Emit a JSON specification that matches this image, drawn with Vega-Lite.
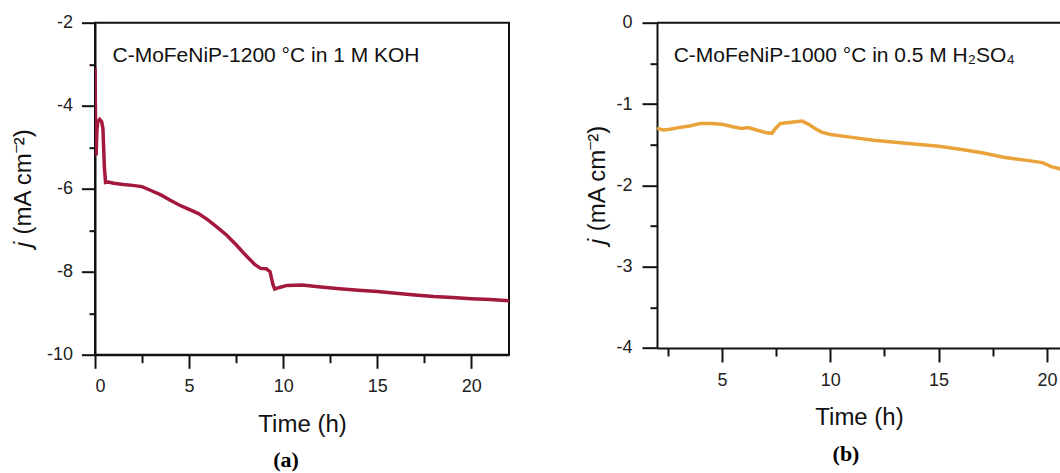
{
  "$schema": "https://vega.github.io/schema/vega-lite/v6.json",
  "padding": {"left": 10, "top": 10.7, "right": 0, "bottom": 0},
  "spacing": 75,
  "config": {
    "view": {"stroke": null},
    "font": "Liberation Sans",
    "axis": {
      "grid": false,
      "domainColor": "#111",
      "domainWidth": 2,
      "tickColor": "#111",
      "tickWidth": 2,
      "labelColor": "#222",
      "labelFontSize": 18,
      "titleColor": "#111",
      "titleFontSize": 24,
      "titleFontWeight": "normal"
    }
  },
  "hconcat": [
    {
      "width": 414,
      "height": 332,
      "view": {"stroke": "#111", "strokeWidth": 2},
      "title": {"text": "(a)", "orient": "bottom", "font": "Liberation Serif", "fontSize": 22, "fontWeight": "bold", "color": "#000", "offset": 14, "dx": -16},
      "layer": [
        {
          "data": {"values": [
            {"t": 0.0, "j": -3.1}, {"t": 0.03, "j": -4.5}, {"t": 0.06, "j": -5.2}, {"t": 0.1, "j": -4.6},
            {"t": 0.15, "j": -4.38}, {"t": 0.25, "j": -4.33}, {"t": 0.35, "j": -4.38}, {"t": 0.42, "j": -4.55},
            {"t": 0.5, "j": -5.5}, {"t": 0.56, "j": -5.85}, {"t": 0.7, "j": -5.84}, {"t": 1.0, "j": -5.87},
            {"t": 1.5, "j": -5.9}, {"t": 2.0, "j": -5.92}, {"t": 2.5, "j": -5.95}, {"t": 3.0, "j": -6.05},
            {"t": 3.5, "j": -6.15}, {"t": 4.0, "j": -6.28}, {"t": 4.5, "j": -6.4}, {"t": 5.0, "j": -6.5},
            {"t": 5.5, "j": -6.6}, {"t": 6.0, "j": -6.75}, {"t": 6.5, "j": -6.93}, {"t": 7.0, "j": -7.12},
            {"t": 7.5, "j": -7.35}, {"t": 8.0, "j": -7.6}, {"t": 8.5, "j": -7.83}, {"t": 8.8, "j": -7.92},
            {"t": 9.1, "j": -7.93}, {"t": 9.3, "j": -8.0}, {"t": 9.45, "j": -8.3}, {"t": 9.55, "j": -8.42},
            {"t": 9.8, "j": -8.38}, {"t": 10.2, "j": -8.33}, {"t": 11.0, "j": -8.32}, {"t": 12.0, "j": -8.37},
            {"t": 13.0, "j": -8.41}, {"t": 14.0, "j": -8.45}, {"t": 15.0, "j": -8.48}, {"t": 16.0, "j": -8.52},
            {"t": 17.0, "j": -8.56}, {"t": 18.0, "j": -8.6}, {"t": 19.0, "j": -8.62}, {"t": 20.0, "j": -8.65},
            {"t": 21.0, "j": -8.67}, {"t": 22.0, "j": -8.7}
          ]},
          "mark": {"type": "line", "color": "#A3183C", "strokeWidth": 3.5, "clip": true},
          "encoding": {
            "x": {"field": "t", "type": "quantitative", "scale": {"domain": [0, 22], "nice": false, "zero": false},
              "axis": {"orient": "bottom", "values": [0, 5, 10, 15, 20], "tickSize": 13.6, "labelPadding": 9, "title": "Time (h)", "titlePadding": 17}},
            "y": {"field": "j", "type": "quantitative", "scale": {"domain": [-10, -2], "nice": false, "zero": false},
              "axis": {"orient": "left", "values": [-2, -4, -6, -8, -10], "tickSize": 13.6, "labelPadding": 9, "labelExpr": "'' + datum.value", "title": "𝑗 (mA cm⁻²)", "titlePadding": 11}}
          }
        },
        {
          "data": {"values": [{"t": 0.93, "j": -2.947, "label": "C-MoFeNiP-1200 °C in 1 M KOH"}]},
          "mark": {"type": "text", "align": "left", "baseline": "alphabetic", "fontSize": 21, "color": "#111"},
          "encoding": {
            "x": {"field": "t", "type": "quantitative", "axis": {"orient": "bottom", "values": [2.5, 7.5, 12.5, 17.5], "tickSize": 8, "labels": false, "domain": false, "title": null}},
            "y": {"field": "j", "type": "quantitative", "axis": {"orient": "left", "values": [-3, -5, -7, -9], "tickSize": 6, "labels": false, "domain": false, "title": null}},
            "text": {"field": "label"}
          }
        }
      ],
      "resolve": {"axis": {"x": "independent", "y": "independent"}}
    },
    {
      "width": 404,
      "height": 325.3,
      "title": {"text": "(b)", "orient": "bottom", "font": "Liberation Serif", "fontSize": 22, "fontWeight": "bold", "color": "#000", "offset": 14, "dx": -13},
      "layer": [
        {
          "data": {"values": [
            {"t": 2.0, "j": -1.3}, {"t": 2.3, "j": -1.32}, {"t": 2.6, "j": -1.31}, {"t": 3.0, "j": -1.29},
            {"t": 3.5, "j": -1.27}, {"t": 4.0, "j": -1.24}, {"t": 4.5, "j": -1.24}, {"t": 5.0, "j": -1.25},
            {"t": 5.5, "j": -1.28}, {"t": 5.9, "j": -1.3}, {"t": 6.2, "j": -1.29}, {"t": 6.6, "j": -1.32},
            {"t": 7.0, "j": -1.35}, {"t": 7.3, "j": -1.36}, {"t": 7.5, "j": -1.29}, {"t": 7.7, "j": -1.24},
            {"t": 8.0, "j": -1.23}, {"t": 8.3, "j": -1.22}, {"t": 8.7, "j": -1.21}, {"t": 9.0, "j": -1.25},
            {"t": 9.3, "j": -1.3}, {"t": 9.6, "j": -1.345}, {"t": 10.0, "j": -1.375}, {"t": 11.0, "j": -1.41},
            {"t": 12.0, "j": -1.445}, {"t": 13.0, "j": -1.47}, {"t": 14.0, "j": -1.495}, {"t": 15.0, "j": -1.52},
            {"t": 16.0, "j": -1.555}, {"t": 17.0, "j": -1.6}, {"t": 18.0, "j": -1.655}, {"t": 19.0, "j": -1.69},
            {"t": 19.8, "j": -1.72}, {"t": 20.2, "j": -1.77}, {"t": 20.65, "j": -1.8}
          ]},
          "mark": {"type": "line", "color": "#EAA33A", "strokeWidth": 3.5, "clip": true},
          "encoding": {
            "x": {"field": "t", "type": "quantitative", "scale": {"domain": [2, 20.65], "nice": false, "zero": false},
              "axis": {"orient": "bottom", "values": [5, 10, 15, 20], "tickSize": 14, "labelPadding": 10, "title": "Time (h)", "titlePadding": 16}},
            "y": {"field": "j", "type": "quantitative", "scale": {"domain": [-4, 0], "nice": false, "zero": false},
              "axis": {"orient": "left", "values": [0, -1, -2, -3, -4], "tickSize": 15, "labelPadding": 10, "labelExpr": "'' + datum.value", "title": "𝑗 (mA cm⁻²)", "titlePadding": 6}}
          }
        },
        {
          "data": {"values": [{"t": 2.77, "j": -0.483, "label": "C-MoFeNiP-1000 °C in 0.5 M H₂SO₄"}]},
          "mark": {"type": "text", "align": "left", "baseline": "alphabetic", "fontSize": 21, "color": "#111"},
          "encoding": {
            "x": {"field": "t", "type": "quantitative", "axis": {"orient": "bottom", "values": [2.5, 7.5, 12.5, 17.5], "tickSize": 8, "labels": false, "domain": false, "title": null}},
            "y": {"field": "j", "type": "quantitative", "axis": {"orient": "left", "values": [-0.5, -1.5, -2.5, -3.5], "tickSize": 7, "labels": false, "domain": false, "title": null}},
            "text": {"field": "label"}
          }
        },
        {
          "data": {"values": [{"t": 2.77, "j": 0}]},
          "mark": {"type": "rule", "color": "#111", "strokeWidth": 2, "clip": false},
          "encoding": {
            "y": {"field": "j", "type": "quantitative", "axis": null},
            "x": {"value": 0},
            "x2": {"value": 404}
          }
        },
        {
          "data": {"values": [{"t": 2.77, "j": -0.483}]},
          "mark": {"type": "point", "opacity": 0},
          "encoding": {
            "x": {"field": "t", "type": "quantitative", "axis": {"orient": "top", "ticks": false, "labels": false, "domain": false, "title": " ", "titleFontSize": 10, "titlePadding": 2}}
          }
        }
      ],
      "resolve": {"axis": {"x": "independent", "y": "independent"}}
    }
  ]
}
